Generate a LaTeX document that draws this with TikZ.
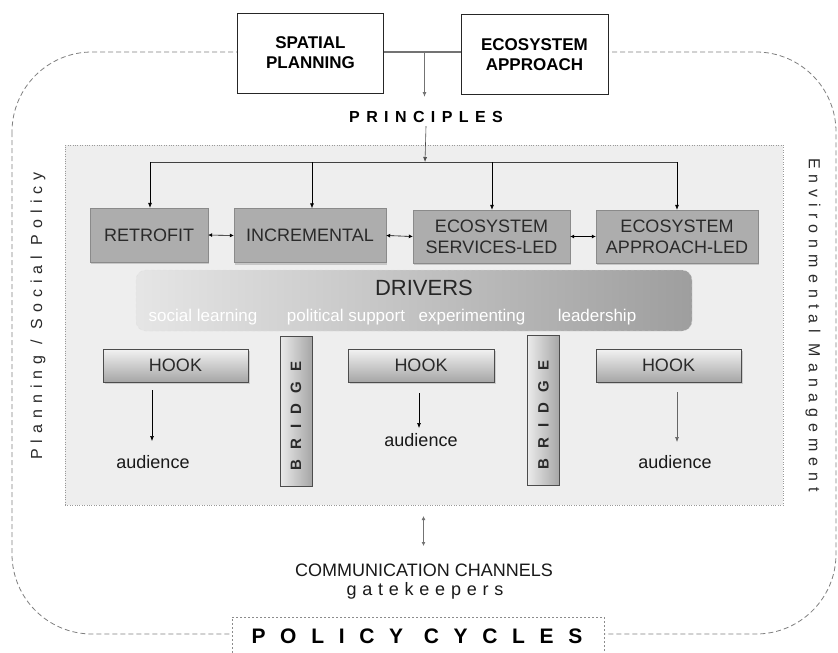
\documentclass[tikz,border=0pt]{standalone}
\usepackage{fontspec}
\setmainfont{Liberation Sans}
\usetikzlibrary{arrows.meta,shadows}
\definecolor{panelc}{HTML}{EEEEEE}
\definecolor{boxg}{HTML}{ADADAD}
\definecolor{txt}{HTML}{2A2A2A}
\begin{document}
\begin{tikzpicture}[x=1pt,y=-1pt,
  outer/.style={draw=black!50, dash pattern=on 5pt off 3pt, line width=0.8pt},
  topbox/.style={draw=black!85, line width=0.9pt, fill=white, minimum width=146pt, minimum height=80pt, align=center, inner sep=0pt, font=\bfseries\fontsize{17}{20}\selectfont},
  princ/.style={draw=boxg!80!black, fill=boxg, minimum height=54pt, align=center, inner sep=0pt, text=txt, font=\fontsize{18}{21}\selectfont, drop shadow={opacity=0.35, shadow xshift=1pt, shadow yshift=-2pt}},
  hookbox/.style={draw=black!70, line width=0.8pt, top color=black!5, bottom color=black!35, minimum width=145pt, minimum height=33pt, inner sep=0pt, text=txt, font=\fontsize{18}{20}\selectfont, drop shadow={opacity=0.3, shadow xshift=1.5pt, shadow yshift=-1.5pt}},
  bridgebox/.style={draw=black!70, line width=0.8pt, left color=black!8, right color=black!35, minimum width=32pt, minimum height=150pt, inner sep=0pt},
  bridgetxt/.style={rotate=90, text=txt, font=\bfseries\fontsize{15}{17}\selectfont\addfontfeature{LetterSpace=68}},
  sidetxt/.style={text=txt, font=\fontsize{16}{18}\selectfont\addfontfeature{LetterSpace=38}},
  drvtxt/.style={text=white, font=\fontsize{17}{19}\selectfont},
  audtxt/.style={text=black!90, font=\fontsize{18}{20}\selectfont},
  arr/.style={-{Latex[length=5pt,width=4pt]}, line width=0.6pt},
  darr/.style={{Latex[length=4pt,width=4pt]}-{Latex[length=4pt,width=4pt]}, line width=0.6pt},
]
\useasboundingbox (0,0) rectangle (838,653);
\fill[white] (0,0) rectangle (838,653);

% outer dashed frame
\draw[outer, rounded corners=80pt] (12,52) rectangle (836,634);

% top boxes
\node[topbox] (sp) at (310.5,53) {SPATIAL\\PLANNING};
\node[topbox, minimum width=147pt] (eco) at (534.5,54.5) {ECOSYSTEM\\APPROACH};
\coordinate (j) at (424.5,52);
\coordinate (jd) at (424.5,97);
\draw[black!55, line width=1.6pt] (sp.east |- j) -- (eco.west |- j);
\draw[arr, black!55, line width=1pt] (j) -- (jd);

\node[font=\bfseries\fontsize{16}{18}\selectfont\addfontfeature{LetterSpace=40}] (prin) at (426,117) {PRINCIPLES};

% panel
\node[draw=black!40, dotted, fill=panelc, minimum width=718pt, minimum height=360pt, inner sep=0pt] (panel) at (424,325) {};

% side labels
\node[sidetxt, rotate=90] (lp) at (38,316) {Planning / Social Policy};
\node[sidetxt, rotate=-90] (rp) at (813,325) {Environmental Management};

% bus
\coordinate (bus) at (425,162);
\coordinate (b1) at (150,162);
\coordinate (b2) at (312,162);
\coordinate (b3) at (492,162);
\coordinate (b4) at (677,162);
\draw[arr, black!70] (prin.south) -- (bus);
\draw[line width=0.8pt, black!75] (b1) -- (b4);

% principle boxes
\node[princ, minimum width=118pt] (retro) at (149,235) {RETROFIT};
\node[princ, minimum width=152pt] (incr) at (310,235.5) {INCREMENTAL};
\node[princ, minimum width=157pt, minimum height=53pt] (esl) at (491.5,236.5) {ECOSYSTEM\\SERVICES-LED};
\node[princ, minimum width=162pt, minimum height=53pt] (eal) at (677,236.5) {ECOSYSTEM\\APPROACH-LED};

\draw[arr] (b1) -- (b1 |- retro.north);
\draw[arr] (b2) -- (b2 |- incr.north);
\draw[arr] (b3) -- (b3 |- esl.north);
\draw[arr] (b4) -- (b4 |- eal.north);

\draw[darr] (retro.east) -- (incr.west);
\draw[darr] (incr.east) -- (esl.west);
\draw[darr] (esl.east) -- (eal.west);

% drivers
\node[draw=white!75!gray, dashed, rounded corners=10pt, left color=black!10, right color=black!38, minimum width=556pt, minimum height=61pt, inner sep=0pt] (drv) at (414,300.5) {};
\node[text=black!85, font=\fontsize{22}{24}\selectfont] (drvt) at (424,288) {DRIVERS};
\node[drvtxt] (d1) at (203,317) {social learning};
\node[drvtxt] (d2) at (346,317) {political support};
\node[drvtxt] (d3) at (472,317) {experimenting};
\node[drvtxt] (d4) at (597,317) {leadership};

% hooks and bridges
\node[hookbox] (h1) at (175.5,365.5) {HOOK};
\node[hookbox, minimum width=146pt] (h2) at (421,365.5) {HOOK};
\node[hookbox] (h3) at (668.5,365.5) {HOOK};
\node[bridgebox] (br1) at (296,411) {};
\node[bridgetxt] (br1t) at ([yshift=-5pt]br1.center) {BRIDGE};
\node[bridgebox] (br2) at (543.5,410) {};
\node[bridgetxt] (br2t) at ([yshift=-5pt]br2.center) {BRIDGE};

\node[audtxt] (a1) at (153,462) {audience};
\node[audtxt] (a2) at (421,440) {audience};
\node[audtxt] (a3) at (675,462) {audience};
\coordinate (h1s) at (152,390);
\coordinate (h1e) at (152,441);
\coordinate (h2s) at (419,393);
\coordinate (h2e) at (419,428);
\coordinate (h3s) at (677,392);
\coordinate (h3e) at (677,442);
\draw[arr] (h1s) -- (h1e);
\draw[arr] (h2s) -- (h2e);
\draw[arr, black!60] (h3s) -- (h3e);

% communication
\coordinate (c1) at (423.5,516);
\coordinate (c2) at (423.5,546);
\draw[darr, black!55, line width=1.2pt] (c1) -- (c2);
\node[text=black!90, font=\fontsize{18}{20}\selectfont] (comm) at (424,570) {COMMUNICATION CHANNELS};
\node[text=black!90, font=\fontsize{18}{20}\selectfont\addfontfeature{LetterSpace=32}] (gate) at (425,591) {gatekeepers};

% policy cycles
\node[draw=black!45, dash pattern=on 2pt off 2pt, fill=white, minimum width=372pt, minimum height=42pt, inner sep=0pt] (pc) at (418,638) {};
\node[font=\bfseries\fontsize{21}{23}\selectfont\addfontfeature{LetterSpace=70}] (pct) at (417,636) {POLICY CYCLES};
\end{tikzpicture}
\end{document}
